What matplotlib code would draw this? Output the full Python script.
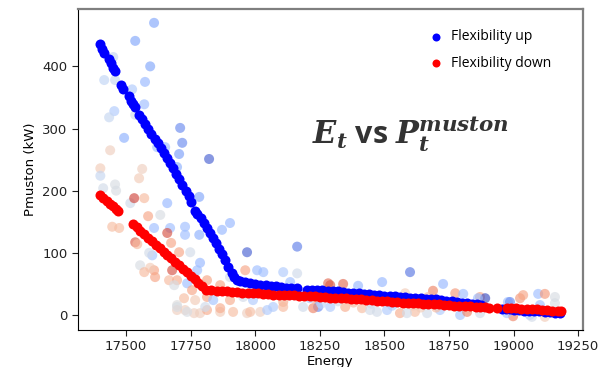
import matplotlib
matplotlib.use('Agg')
import matplotlib.pyplot as plt

# Flexibility up (blue band)
up_energy = [17400, 17408, 17415, 17435, 17442, 17450, 17457, 17480, 17487,
             17510, 17518, 17525, 17533,
             17550, 17562, 17574, 17586, 17598, 17610, 17622, 17634, 17646,
             17658, 17670, 17682, 17694, 17706, 17718, 17730, 17742, 17752,
             17766, 17776, 17788, 17800, 17812, 17824, 17836, 17848, 17860,
             17872, 17884, 17896, 17908, 17918, 17928,
             17940, 17960, 17980, 18000, 18020, 18040, 18060, 18080, 18100,
             18120, 18140, 18160, 18200, 18220, 18240, 18260, 18280, 18300,
             18320, 18340, 18360, 18380, 18400, 18420, 18440, 18460, 18480,
             18500, 18520, 18540, 18560, 18580, 18600, 18620, 18640, 18660,
             18680, 18700, 18720, 18740, 18760, 18780, 18800, 18820, 18840,
             18860, 18875, 18955, 18970, 18985, 19000, 19020, 19040, 19060,
             19080, 19100, 19120, 19140, 19160, 19180]
up_power = [436, 428, 422, 412, 405, 398, 392, 370, 364,
            352, 344, 340, 334,
            322, 315, 307, 299, 291, 283, 276, 268, 260,
            252, 244, 236, 227, 218, 209, 200, 191, 182,
            168, 163, 156, 148, 140, 132, 124, 116, 107,
            98, 88, 78, 68, 61, 56,
            54, 53, 51, 50, 49, 48, 47, 46, 45,
            44, 43, 43, 41, 41, 40, 40, 39, 38,
            38, 37, 36, 36, 35, 34, 34, 33, 32,
            31, 31, 30, 29, 29, 28, 27, 27, 26,
            25, 25, 24, 23, 22, 21, 20, 19, 18,
            17, 16, 9, 9, 9, 8, 8, 7, 7,
            6, 6, 5, 5, 4, 3]

# Flexibility down (red band)
down_energy = [17400, 17412, 17424, 17436, 17448, 17460, 17470,
               17525, 17540, 17555, 17570, 17585, 17600, 17615, 17630, 17645,
               17660, 17675, 17690, 17705, 17720, 17735, 17750, 17765, 17780,
               17795, 17810,
               17830, 17850, 17870, 17890, 17910, 17930, 17950, 17970, 17990,
               18010, 18030, 18050, 18070, 18090, 18110, 18130, 18150, 18170,
               18190, 18210, 18230, 18250, 18270, 18290, 18310, 18330, 18350,
               18370, 18390, 18410, 18430, 18450, 18470, 18490, 18510, 18530,
               18550, 18570, 18590, 18610, 18630, 18650, 18670, 18690, 18710,
               18730, 18750, 18770, 18790, 18810, 18830, 18855, 18870, 18890,
               18905, 18935, 18975, 18990, 19010, 19030, 19050, 19070, 19090,
               19110, 19130, 19150, 19170, 19185]
down_power = [193, 188, 183, 179, 175, 171, 167,
              146, 141, 135, 130, 124, 119, 113, 108, 102,
              97, 91, 86, 80, 74, 69, 63, 58, 52,
              47, 41,
              40, 39, 38, 38, 37, 37, 36, 36, 35,
              35, 34, 34, 33, 33, 33, 32, 32, 31,
              31, 30, 30, 29, 29, 28, 28, 27, 27,
              26, 26, 25, 24, 24, 23, 22, 22, 21,
              21, 20, 20, 19, 19, 18, 18, 17, 17,
              16, 16, 15, 15, 14, 14, 13, 13, 13,
              12, 12, 11, 11, 11, 10, 10, 9, 9,
              8, 8, 7, 6, 6]

# faded background points, colour level on coolwarm (0 = blue, 1 = red)
bg_energy = [17608, 17535, 17450, 17593, 17415, 17457, 17573, 17523, 17570, 17454,
             17434, 17535, 17709, 17717, 17705, 17821, 17492, 17620, 17651, 17438,
             17400, 17562, 17400, 17457, 17550, 17411, 17461, 17783, 17697, 17516,
             17531, 17570, 17659, 17585, 17632, 17446, 17473, 17608, 17670, 17659,
             17728, 17728, 17783, 17535, 17543, 17674, 17705, 17748, 17601, 17589,
             17554, 17608, 17593, 17570, 17678, 17612, 17666, 17697, 17686, 17736,
             17755, 17724, 17767, 17697, 17728, 17763, 17697, 17786, 17775, 17794,
             17968, 17961, 18007, 18031, 18108, 18162, 18162, 17813, 17864, 17902,
             17697, 17736, 17786, 17813, 17864, 17914, 17968, 18019, 18046, 18069,
             17902, 17991, 17953, 18108, 17902, 17871, 18135, 18282, 18212, 18232,
             18243, 18185, 18108, 17980, 17864, 17813, 17837, 17806, 18599, 18491,
             18398, 18340, 18290, 18727, 18688, 18580, 18669, 18290, 18348, 18413,
             18471, 18510, 18560, 18618, 18665, 18715, 18444, 18587, 18774, 18805,
             18870, 18890, 18862, 18978, 18986, 19025, 19037, 19095, 19121, 19160,
             19160, 19102, 18998, 18974, 19063, 18870, 18793, 18820, 18224, 19071,
             19121, 18380, 18450, 18530, 18610, 18700, 18320, 18255, 18640, 18540]
bg_power = [470, 441, 415, 400, 378, 378, 375, 363, 339, 328,
            318, 322, 301, 277, 259, 251, 285, 270, 270, 265,
            236, 235, 224, 210, 220, 204, 200, 190, 238, 180,
            188, 188, 180, 159, 161, 142, 140, 140, 140, 132,
            142, 129, 129, 117, 114, 116, 101, 101, 96, 100,
            80, 72, 76, 69, 72, 61, 56, 56, 48, 51,
            40, 27, 24, 16, 8, 3, 8, 84, 72, 48,
            101, 72, 72, 69, 69, 110, 67, 56, 48, 61,
            13, 5, 3, 8, 5, 5, 3, 5, 8, 13,
            24, 24, 29, 21, 148, 137, 53, 51, 27, 27,
            13, 13, 13, 5, 11, 29, 24, 13, 69, 53,
            47, 50, 48, 50, 39, 35, 29, 13, 13, 11,
            5, 8, 3, 5, 3, 8, 8, 3, 35, 34,
            29, 27, 27, 21, 21, 27, 32, 34, 34, 29,
            19, 16, -2, 3, 0, 3, 0, 5, 11, -3,
            -3, 20, 18, 15, 15, 12, 22, 18, 12, 20]
bg_level = [0.22, 0.22, 0.42, 0.22, 0.40, 0.42, 0.28, 0.35, 0.30, 0.35,
            0.42, 0.45, 0.15, 0.15, 0.20, 0.05, 0.25, 0.30, 0.30, 0.58,
            0.60, 0.58, 0.42, 0.48, 0.60, 0.46, 0.48, 0.22, 0.25, 0.45,
            0.92, 0.66, 0.28, 0.72, 0.48, 0.65, 0.65, 0.30, 0.30, 0.90,
            0.30, 0.30, 0.25, 0.88, 0.66, 0.72, 0.72, 0.46, 0.32, 0.46,
            0.48, 0.72, 0.60, 0.66, 0.90, 0.72, 0.66, 0.70, 0.48, 0.30,
            0.72, 0.65, 0.60, 0.50, 0.58, 0.58, 0.58, 0.28, 0.30, 0.45,
            0.05, 0.72, 0.30, 0.30, 0.35, 0.12, 0.45, 0.72, 0.72, 0.46,
            0.48, 0.48, 0.58, 0.70, 0.60, 0.65, 0.58, 0.58, 0.35, 0.35,
            0.70, 0.35, 0.46, 0.70, 0.28, 0.28, 0.30, 0.85, 0.32, 0.72,
            0.15, 0.45, 0.66, 0.65, 0.70, 0.72, 0.32, 0.45, 0.10, 0.28,
            0.28, 0.85, 0.88, 0.28, 0.80, 0.60, 0.66, 0.35, 0.70, 0.65,
            0.46, 0.35, 0.70, 0.65, 0.46, 0.35, 0.46, 0.46, 0.75, 0.30,
            0.72, 0.00, 0.30, 0.30, 0.15, 0.75, 0.72, 0.30, 0.75, 0.48,
            0.48, 0.30, 0.80, 0.32, 0.32, 0.46, 0.32, 0.80, 0.80, 0.46,
            0.60, 0.65, 0.46, 0.35, 0.58, 0.66, 0.46, 0.40, 0.60, 0.32]

plt.rcParams['mathtext.fontset'] = 'dejavuserif'

fig = plt.figure(figsize=(5.99, 3.67), dpi=100)
ax = fig.add_axes([0.13, 0.101, 0.843, 0.874])

ax.scatter(bg_energy, bg_power, c=bg_level, cmap='coolwarm', vmin=0, vmax=1,
           s=52, alpha=0.65, linewidths=0, zorder=1)
ax.scatter(up_energy, up_power, color='#0000ff', s=52, linewidths=0, zorder=2,
           label='Flexibility up')
ax.scatter(down_energy, down_power, color='#ff0000', s=52, linewidths=0, zorder=3,
           label='Flexibility down')

ax.set_xlim(17313, 19268)
ax.set_ylim(-24, 492)
ax.set_xticks([17500, 17750, 18000, 18250, 18500, 18750, 19000, 19250])
ax.set_yticks([0, 100, 200, 300, 400])
ax.tick_params(labelsize=9.5, colors='#222222', length=4)
ax.set_xlabel('Energy', fontsize=9.5, labelpad=1)
ax.set_ylabel('Pmuston (kW)', fontsize=9.5)

for side in ['top', 'right']:
    ax.spines[side].set_color('#7f7f7f')
    ax.spines[side].set_linewidth(1.6)

ax.legend(loc='upper left', bbox_to_anchor=(0.695, 0.935),
          bbox_transform=fig.transFigure, frameon=False,
          prop={'family': 'Open Sans', 'size': 10}, handletextpad=0.1,
          labelspacing=0.8, markerscale=0.8, borderaxespad=0)

fig.text(0.685, 0.635, r'$\mathbfit{E_t}$ vs $\mathbfit{P_t^{muston}}$',
         fontsize=22, fontweight='bold', family='Open Sans', color='#333333',
         ha='center', va='center')

fig.savefig('out.png', dpi=100)
